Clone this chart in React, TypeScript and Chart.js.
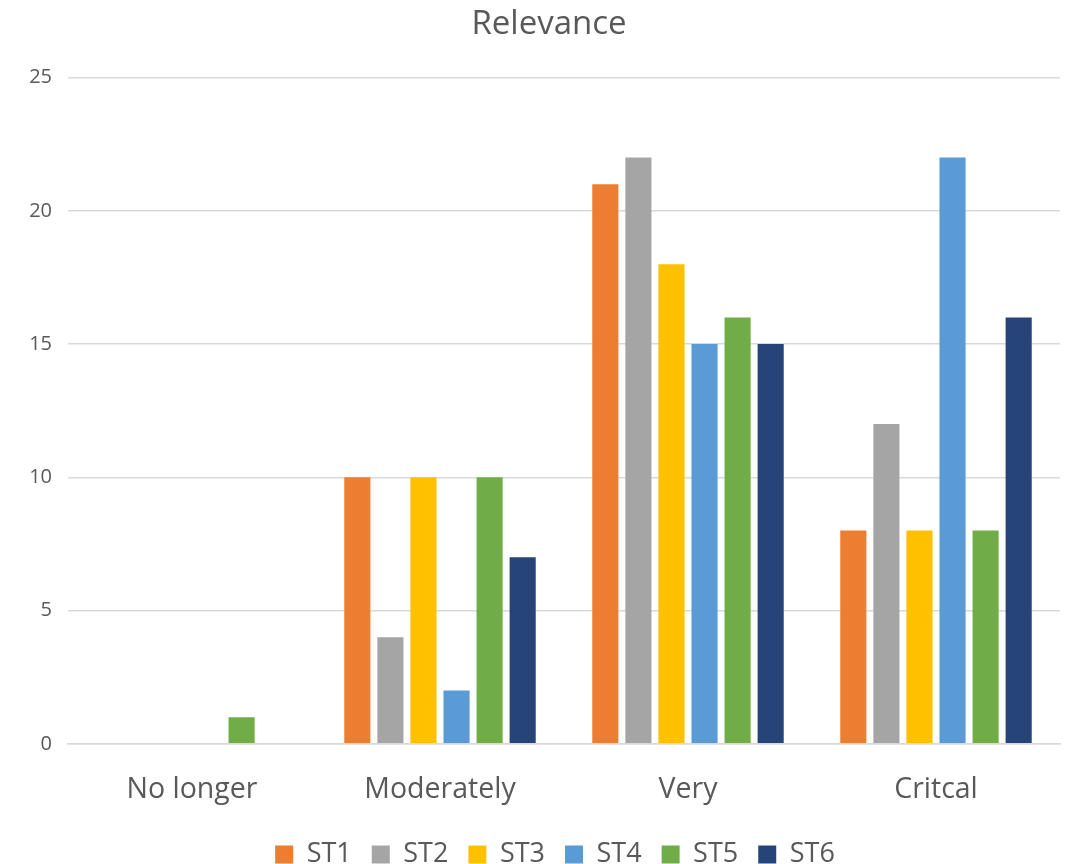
import React, { useEffect, useRef } from "react";
import { Chart, registerables } from "chart.js";

Chart.register(...registerables);

const categories = ["No longer", "Moderately", "Very", "Critcal"];
const seriesNames = ["ST1", "ST2", "ST3", "ST4", "ST5", "ST6"];
const st1 = [0, 10, 21, 8];
const st2 = [0, 4, 22, 12];
const st3 = [0, 10, 18, 8];
const st4 = [0, 2, 15, 22];
const st5 = [1, 10, 16, 8];
const st6 = [0, 7, 15, 16];
const seriesValues = [st1, st2, st3, st4, st5, st6];
const colors = ["#ED7D31", "#A5A5A5", "#FFC000", "#5B9BD5", "#70AD47", "#264478"];
const yTicks = [0, 5, 10, 15, 20, 25];

const FONT = "'Open Sans', 'Liberation Sans', sans-serif";

const shiftBlocks = {
  id: "shiftBlocks",
  afterLayout(chart: any) {
    const lg = chart.legend;
    if (lg) {
      lg.left += 12;
      lg.right += 12;
    }
    const tb = chart.titleBlock;
    if (tb) {
      tb.left += 6;
      tb.right += 6;
    }
  },
};

export default function App() {
  const ref = useRef<HTMLCanvasElement | null>(null);
  useEffect(() => {
    if (!ref.current) return;
    const chart = new Chart(ref.current, {
      type: "bar",
      data: {
        labels: categories,
        datasets: seriesNames.map((n, i) => ({
          label: n,
          data: seriesValues[i],
          backgroundColor: colors[i],
          borderWidth: 0,
          categoryPercentage: 0.8,
          barPercentage: 0.79,
        })),
      },
      plugins: [shiftBlocks],
      options: {
        animation: false,
        responsive: false,
        maintainAspectRatio: false,
        layout: { padding: { left: 26, right: 16, top: 5, bottom: -14 } },
        plugins: {
          title: {
            display: true,
            text: "Relevance",
            color: "#595959",
            font: { family: FONT, size: 33, weight: "normal" },
            padding: { top: 0, bottom: 33 },
          },
          legend: {
            position: "bottom",
            labels: {
              color: "#595959",
              font: { family: FONT, size: 27 },
              boxWidth: 18,
              boxHeight: 18,
              padding: 20,
            },
          },
          tooltip: { enabled: false },
        },
        scales: {
          x: {
            grid: { display: false },
            border: { display: true, color: "#D9D9D9", width: 1.5 },
            afterFit: (axis: any) => {
              axis.paddingLeft = 0;
              axis.paddingRight = 0;
              axis.height -= 7;
            },
            ticks: {
              color: "#595959",
              font: { family: FONT, size: 28.5 },
              padding: 21,
            },
          },
          y: {
            min: 0,
            max: 25,
            afterBuildTicks: (axis: any) => {
              axis.ticks = yTicks.map((v) => ({ value: v }));
            },
            afterFit: (axis: any) => {
              axis.width = 42;
            },
            grid: { color: "#D9D9D9", lineWidth: 1.5, drawTicks: false },
            border: { display: false },
            ticks: {
              color: "#595959",
              font: { family: FONT, size: 20 },
              padding: 16,
            },
          },
        },
      },
    });
    return () => chart.destroy();
  }, []);
  return (
    <div style={{ position: "absolute", left: 0, top: 0, width: 1076, height: 864, background: "#fff" }}>
      <canvas ref={ref} width={1076} height={864} style={{ width: 1076, height: 864 }} />
    </div>
  );
}
